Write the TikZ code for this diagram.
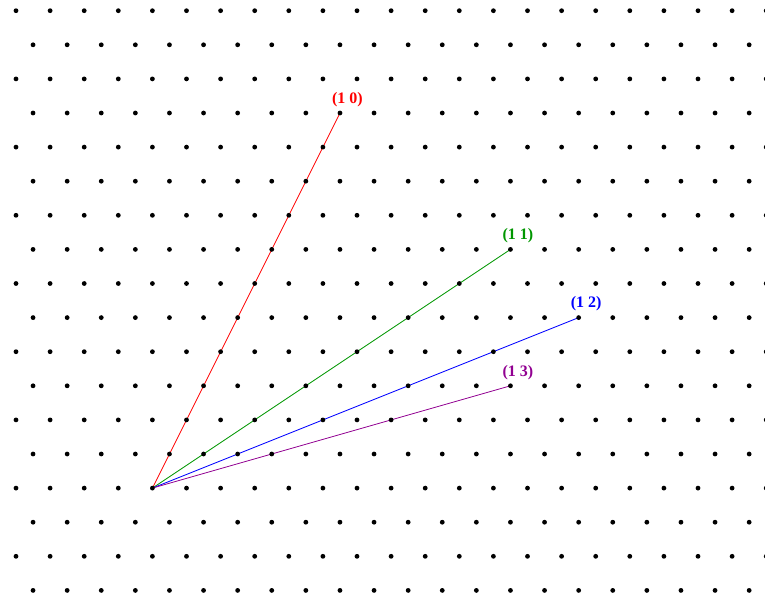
\documentclass[tikz,border=0pt]{standalone}
\usepackage{fontspec}
\setmainfont{Liberation Serif}
\usetikzlibrary{calc}
\definecolor{lgreen}{RGB}{0,150,0}
\definecolor{lpurple}{RGB}{145,0,145}
\begin{document}
\begin{tikzpicture}[x=1pt,y=-1pt,
  dot/.style={fill=black},
  vec/.style={line width=0.8pt},
  lab/.style={font=\fontsize{16}{16}\selectfont\bfseries, inner sep=0pt, anchor=center}]
\useasboundingbox (0,0) rectangle (765,600);
\def\sp{34.1}
% origin and vector ends
\coordinate (O) at (152.4,488.1);
\coordinate (E10) at ($(O)+(5.5*\sp,-11*\sp)$);
\coordinate (E11) at ($(O)+(10.5*\sp,-7*\sp)$);
\coordinate (E12) at ($(O)+(12.5*\sp,-5*\sp)$);
\coordinate (E13) at ($(O)+(10.5*\sp,-3*\sp)$);
\draw[vec,red] (O) -- (E10);
\draw[vec,lgreen] (O) -- (E11);
\draw[vec,blue] (O) -- (E12);
\draw[vec,lpurple] (O) -- (E13);
% lattice
\foreach \r in {0,...,17}{
  \pgfmathsetmacro{\yy}{10.7+\sp*\r}
  \pgfmathsetmacro{\off}{mod(\r,2)==0 ? 16 : 16+\sp/2}
  \foreach \k in {0,...,22}{
    \pgfmathsetmacro{\xx}{\off+\sp*\k}
    \fill[dot] (\xx,\yy) circle (2.4);
  }
}
\node[lab,red] (L10) at ($(E10)+(7.5,-13.5)$) {(1 0)};
\node[lab,lgreen] (L11) at ($(E11)+(7.5,-13.5)$) {(1 1)};
\node[lab,blue] (L12) at ($(E12)+(7.5,-13.5)$) {(1 2)};
\node[lab,lpurple] (L13) at ($(E13)+(7.5,-13.5)$) {(1 3)};
\end{tikzpicture}
\end{document}
